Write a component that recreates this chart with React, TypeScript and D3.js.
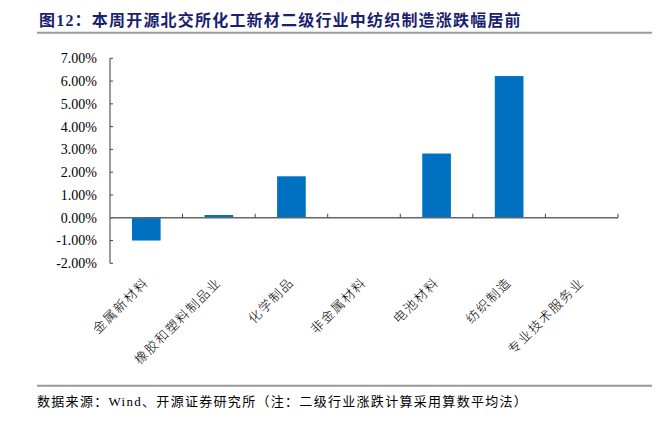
import React from "react";
import * as d3 from "d3";

const categories = ["金属新材料", "橡胶和塑料制品业", "化学制品", "非金属材料", "电池材料", "纺织制造", "专业技术服务业"];
const values = [-1.0, 0.12, 1.82, 0, 2.82, 6.22, 0];
const yTicks = [-2, -1, 0, 1, 2, 3, 4, 5, 6, 7];
const title = "图12：本周开源北交所化工新材二级行业中纺织制造涨跌幅居前";
const source = "数据来源：Wind、开源证券研究所（注：二级行业涨跌计算采用算数平均法）";

const W = 660;
const H = 423;
const left = 110;
const right = 618;
const top = 58.3;
const bottom = 263.3;

export default function App() {
  const x = d3.scaleBand<string>().domain(categories).range([left, right]).padding(0);
  const y = d3.scaleLinear().domain([-2, 7]).range([bottom, top]);
  const bw = x.bandwidth();
  const barW = bw * 0.395;
  const y0 = y(0);
  const serif = "'Liberation Serif', 'Times New Roman', 'Noto Sans CJK SC', serif";
  const cjk = "'Noto Sans CJK SC', sans-serif";
  const fmt = (v: number) => v.toFixed(2) + "%";

  return (
    <svg width={W} height={H} style={{ position: "absolute", left: 0, top: 0, background: "#fff" }}>
      <text x={39} y={26} fontFamily={serif} fontWeight="bold" fontSize={16} letterSpacing={1.2} fill="#1a1f71">
        {title}
      </text>
      <line x1={37} x2={652} y1={32.8} y2={32.8} stroke="#999" strokeWidth={2} />

      {/* bars */}
      {categories.map((c, i) => {
        const v = values[i];
        if (v === 0) return null;
        const yv = y(v);
        return (
          <rect
            key={c}
            x={(x(c) as number) + (bw - barW) / 2}
            y={Math.min(yv, y0)}
            width={barW}
            height={Math.abs(yv - y0)}
            fill="#0070C0"
          />
        );
      })}

      {/* y axis */}
      <line x1={left} x2={left} y1={top} y2={bottom} stroke="#666" strokeWidth={1.3} />
      {yTicks.map((t) => (
        <g key={t}>
          <line x1={left} x2={left + 3} y1={y(t)} y2={y(t)} stroke="#444" strokeWidth={1} />
          <text x={97} y={y(t)} dy="0.35em" textAnchor="end" fontFamily={serif} fontSize={14} fill="#000">
            {fmt(t)}
          </text>
        </g>
      ))}

      {/* x axis */}
      <line x1={left} x2={right} y1={y0} y2={y0} stroke="#666" strokeWidth={1.3} />
      {categories.map((c) => {
        const xe = (x(c) as number) + bw;
        return <line key={"t" + c} x1={xe} x2={xe} y1={y0} y2={y0 - 4} stroke="#444" strokeWidth={1} />;
      })}
      {categories.map((c) => {
        const cx = (x(c) as number) + bw / 2;
        return (
          <text
            key={"l" + c}
            transform={`translate(${cx},280) rotate(-45)`}
            dy="0.35em"
            textAnchor="end"
            fontFamily={cjk}
            fontWeight={300}
            fontSize={13}
            letterSpacing={1.5}
            fill="#000"
          >
            {c}
          </text>
        );
      })}

      <line x1={37} x2={652} y1={385.7} y2={385.7} stroke="#999" strokeWidth={2} />
      <text x={37} y={406} fontFamily={serif} fontSize={13} letterSpacing={1.3} fill="#000">
        {source}
      </text>
    </svg>
  );
}
